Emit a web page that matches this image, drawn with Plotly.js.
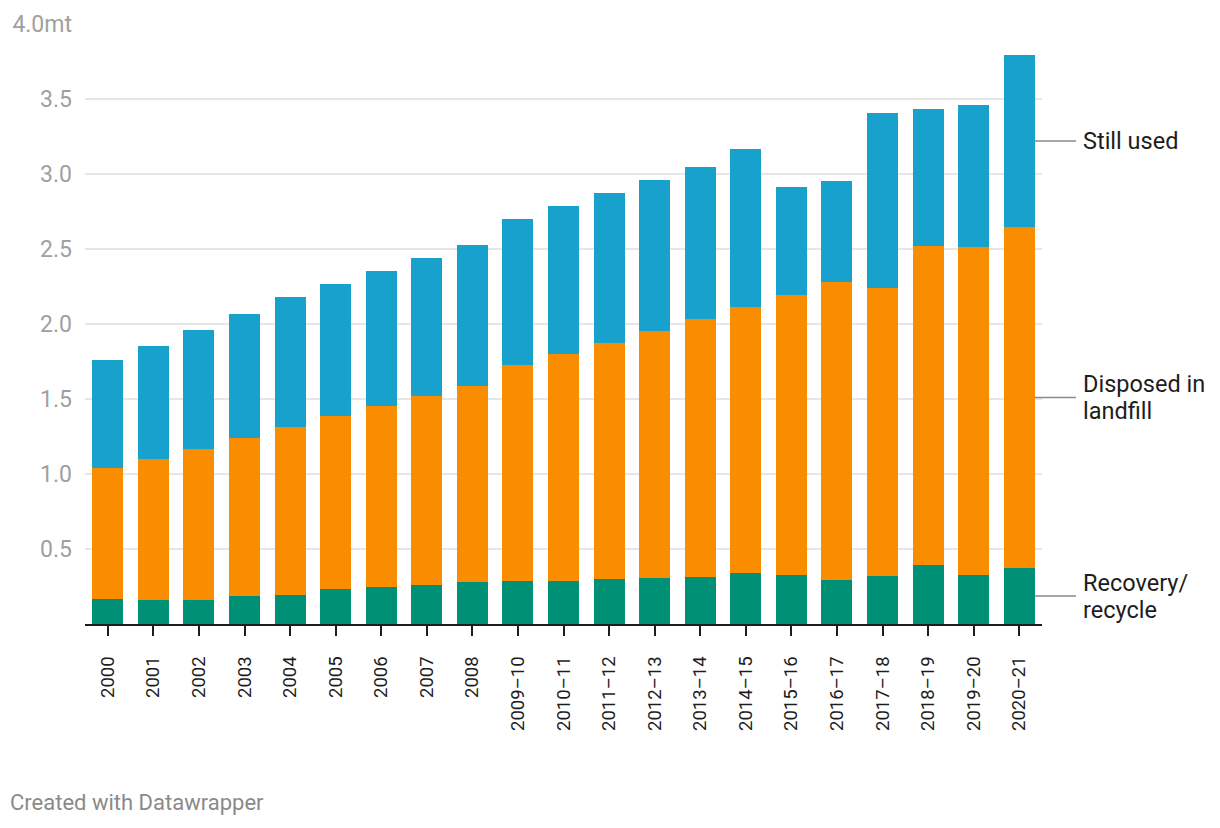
<!DOCTYPE html>
<html>
<head>
<meta charset="utf-8">
<script src="https://cdn.plot.ly/plotly-3.0.1.min.js"></script>
<style>
  html, body { margin: 0; padding: 0; background: #fff; }
  #chart { width: 1220px; height: 828px; }
</style>
</head>
<body>
<div id="chart"></div>
<script>
const categories = ["2000","2001","2002","2003","2004","2005","2006","2007","2008",
  "2009–10","2010–11","2011–12","2012–13","2013–14","2014–15","2015–16","2016–17",
  "2017–18","2018–19","2019–20","2020–21"];

const recovery = [0.167,0.160,0.160,0.187,0.193,0.233,0.247,0.260,0.280,0.287,0.287,
  0.300,0.307,0.313,0.340,0.327,0.293,0.320,0.393,0.327,0.373];
const landfill = [0.875,0.940,1.007,1.055,1.120,1.156,1.209,1.260,1.307,1.440,1.513,
  1.573,1.646,1.720,1.773,1.866,1.989,1.922,2.129,2.186,2.274];
const stillUsed = [0.718,0.753,0.793,0.825,0.867,0.878,0.897,0.920,0.940,0.973,0.987,
  1.000,1.007,1.014,1.054,0.720,0.671,1.165,0.911,0.947,1.146];

const seriesNames = ["Recovery/\nrecycle", "Disposed in\nlandfill", "Still used"];
const seriesColors = ["#009075", "#fa8c00", "#18a1cd"];

const yTickVals = [0.5,1.0,1.5,2.0,2.5,3.0,3.5,4.0];
const yTickText = ["0.5","1.0","1.5","2.0","2.5","3.0","3.5","4.0mt"];

const series = [recovery, landfill, stillUsed];
const traces = series.map((vals, i) => ({
  type: "bar",
  x: categories,
  y: vals,
  name: seriesNames[i].replace("\n", " "),
  marker: { color: seriesColors[i], line: { width: 0 } },
  hoverinfo: "x+y+name"
}));

// direct labels at the midpoint of each segment of the last bar
const last = categories.length - 1;
let base = 0;
const annotations = [];
const shapes = [];
const lineGap = 27;
series.forEach((vals, i) => {
  const mid = base + vals[last] / 2;
  base += vals[last];
  const lines = seriesNames[i].split("\n");
  lines.forEach((ln, k) => {
    annotations.push({
      xref: "paper", yref: "y", x: 1.0405, y: mid,
      yshift: ((lines.length - 1) / 2 - k) * lineGap,
      text: ln, showarrow: false,
      xanchor: "left", yanchor: "middle", align: "left",
      font: { family: "Roboto, sans-serif", size: 23.5, color: "#1d1d1d" }
    });
  });
  shapes.push({
    type: "line", xref: "paper", yref: "y",
    x0: 0.9927, x1: 1.0355, y0: mid, y1: mid,
    line: { color: "#8a8a8a", width: 1.5 }
  });
});

annotations.push({
  xref: "paper", yref: "paper", x: -0.0805, y: -0.298,
  xanchor: "left", yanchor: "middle",
  text: "Created with Datawrapper", showarrow: false,
  font: { family: "Roboto, sans-serif", size: 22, color: "#8a8a8a" }
});

const layout = {
  width: 1220, height: 828,
  margin: { l: 85, r: 178, t: 24, b: 204 },
  paper_bgcolor: "#fff", plot_bgcolor: "#fff",
  barmode: "stack",
  bargap: 0.32,
  showlegend: false,
  font: { family: "Roboto, sans-serif" },
  xaxis: {
    type: "category",
    range: [-0.5, 20.5],
    tickangle: -90,
    ticks: "outside", ticklen: 10, tickwidth: 2, tickcolor: "#1d1d1d",
    showline: true, linecolor: "#1d1d1d", linewidth: 2,
    showgrid: false, zeroline: false,
    tickfont: { family: "Roboto, sans-serif", size: 18.5, color: "#1d1d1d" },
    ticklabelstandoff: 13
  },
  yaxis: {
    range: [0, 4.0],
    tickvals: yTickVals, ticktext: yTickText,
    showgrid: true, gridcolor: "#e6e6e6", gridwidth: 1.5,
    zeroline: false, showline: false, ticks: "",
    tickfont: { family: "Roboto, sans-serif", size: 23, color: "#a0a0a0" },
    ticklabelstandoff: 12
  },
  annotations: annotations,
  shapes: shapes
};

Plotly.newPlot("chart", traces, layout, { displayModeBar: false, staticPlot: true });
</script>
</body>
</html>
